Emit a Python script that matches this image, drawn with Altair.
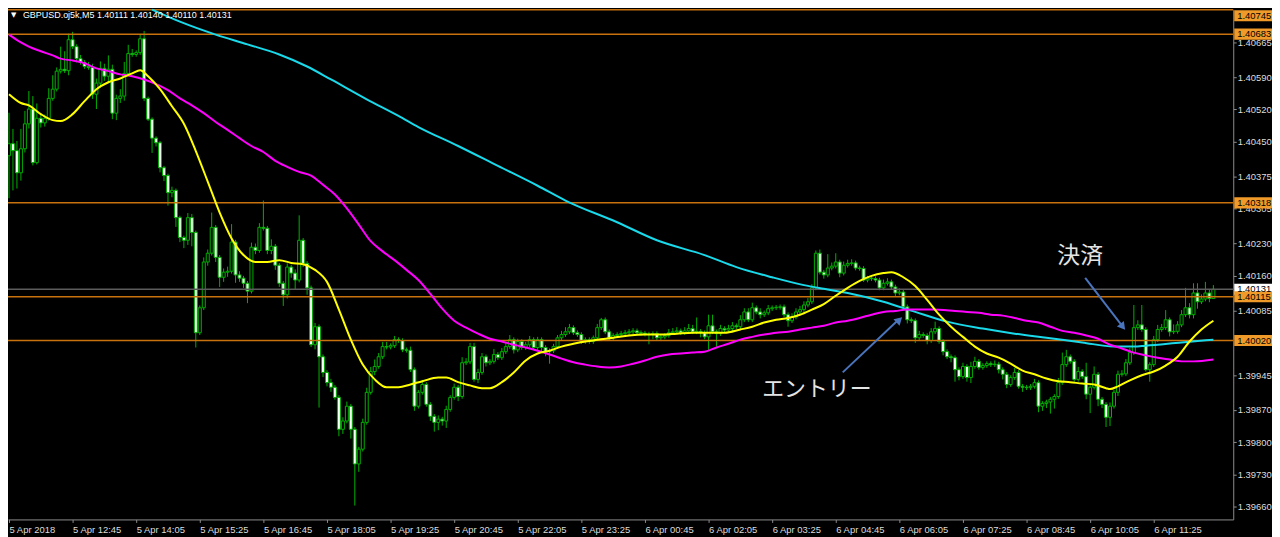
import altair as alt
import pandas as pd

# ---------------- data (prices in 1e-5 units above 1.0) ----------------
first_open_pts = 40420
close_pts = [
    40446, 40431, 40383, 40435, 40489, 40521, 40405, 40501, 40491, 40501, 40544, 40564, 40603, 40607, 40604, 40671,
    40656, 40630, 40622, 40613, 40611, 40553, 40577, 40609, 40592, 40607, 40512, 40544, 40549, 40598, 40641, 40639,
    40643, 40673, 40544, 40499, 40458, 40448, 40394, 40377, 40340, 40345, 40286, 40243, 40237, 40286, 40254, 40037,
    40091, 40190, 40209, 40265, 40200, 40157, 40168, 40170, 40233, 40162, 40155, 40144, 40127, 40222, 40215, 40265,
    40263, 40215, 40224, 40183, 40144, 40119, 40179, 40166, 40151, 40237, 40187, 40134, 40011, 40050, 39985, 39951,
    39929, 39919, 39897, 39828, 39846, 39878, 39828, 39753, 39785, 39843, 39908, 39953, 39964, 39985, 40007, 40006,
    40009, 40022, 40020, 40000, 39999, 39957, 39878, 39908, 39925, 39882, 39856, 39843, 39850, 39846, 39871, 39897,
    39919, 39899, 39972, 39974, 40007, 39936, 39951, 39985, 39972, 39975, 39990, 39983, 39996, 40007, 40022, 40000,
    40018, 40005, 40011, 40022, 40005, 40022, 40005, 39996, 39998, 40007, 40026, 40033, 40039, 40048, 40037, 40033,
    40018, 40022, 40018, 40026, 40048, 40065, 40039, 40026, 40031, 40033, 40035, 40037, 40039, 40041, 40037, 40036,
    40034, 40033, 40035, 40026, 40028, 40031, 40037, 40039, 40041, 40037, 40041, 40046, 40039, 40040, 40037, 40028,
    40052, 40039, 40035, 40046, 40043, 40046, 40052, 40050, 40065, 40082, 40065, 40091, 40082, 40076, 40080, 40089,
    40091, 40092, 40093, 40076, 40063, 40071, 40082, 40087, 40097, 40104, 40134, 40209, 40168, 40162, 40177, 40181,
    40190, 40166, 40183, 40187, 40188, 40177, 40176, 40151, 40155, 40154, 40151, 40134, 40144, 40147, 40136, 40123,
    40125, 40093, 40065, 40063, 40026, 40033, 40031, 40020, 40039, 40046, 40018, 39996, 39985, 39983, 39957, 39942,
    39964, 39940, 39964, 39975, 39962, 39966, 39970, 39968, 39969, 39957, 39947, 39925, 39940, 39951, 39921, 39919,
    39918, 39921, 39929, 39878, 39884, 39887, 39893, 39899, 39929, 39968, 39985, 39975, 39936, 39953, 39942, 39904,
    39919, 39947, 39893, 39882, 39854, 39878, 39908, 39947, 39948, 39972, 39994, 40048, 40054, 40044, 39957, 39968,
    40022, 40044, 40048, 40065, 40039, 40040, 40054, 40076, 40091, 40076, 40123, 40104, 40110, 40123, 40111, 40131,
]
upper_wick = [
    67, 32, 21, 43, 28, 39, 28, 32, 10, 8, 22, 30, 8, 49, 39, 13,
    17, 5, 8, 5, 10, 8, 10, 15, 10, 30, 10, 8, 15, 25, 19, 10,
    5, 10, 17, 4, 4, 4, 4, 4, 4, 8, 4, 4, 4, 10, 8, 4,
    5, 10, 8, 32, 5, 5, 8, 10, 39, 5, 8, 5, 5, 10, 8, 9,
    58, 5, 15, 5, 5, 5, 8, 5, 8, 54, 5, 5, 5, 8, 5, 5,
    5, 8, 5, 5, 8, 10, 5, 5, 5, 8, 10, 10, 15, 8, 10, 10,
    5, 8, 5, 5, 5, 8, 5, 5, 10, 5, 5, 5, 8, 5, 8, 5,
    8, 5, 12, 8, 8, 8, 8, 8, 5, 5, 12, 5, 8, 8, 10, 5,
    6, 5, 6, 8, 5, 6, 5, 5, 5, 6, 6, 8, 10, 8, 5, 5,
    5, 5, 5, 5, 8, 4, 5, 5, 5, 5, 6, 6, 6, 6, 5, 5,
    5, 5, 5, 5, 5, 5, 8, 8, 8, 5, 8, 10, 8, 30, 5, 5,
    24, 24, 5, 8, 5, 8, 8, 5, 10, 8, 8, 11, 5, 8, 5, 8,
    5, 5, 5, 5, 5, 8, 8, 8, 8, 8, 8, 6, 8, 5, 30, 8,
    19, 5, 8, 8, 8, 5, 5, 5, 5, 5, 5, 5, 8, 8, 5, 5,
    8, 5, 5, 5, 5, 8, 5, 5, 8, 15, 5, 5, 5, 5, 5, 5,
    8, 5, 10, 10, 5, 5, 5, 5, 8, 5, 5, 5, 5, 10, 5, 5,
    5, 5, 8, 5, 5, 5, 5, 5, 10, 26, 15, 5, 5, 10, 5, 30,
    8, 17, 5, 5, 5, 8, 5, 8, 8, 8, 10, 49, 10, 43, 5, 5,
    8, 10, 8, 21, 5, 15, 8, 10, 43, 10, 21, 21, 10, 24, 8, 9,
]
lower_wick = [
    92, 86, 34, 17, 8, 10, 6, 4, 10, 8, 5, 5, 5, 5, 5, 10,
    5, 8, 5, 5, 5, 10, 32, 10, 10, 15, 13, 15, 10, 10, 5, 5,
    5, 5, 6, 4, 32, 8, 10, 12, 28, 10, 20, 10, 17, 10, 30, 32,
    5, 5, 8, 5, 10, 21, 10, 10, 5, 17, 8, 10, 26, 5, 8, 5,
    5, 8, 8, 10, 8, 24, 8, 10, 20, 5, 8, 15, 5, 10, 110, 10,
    8, 10, 5, 15, 10, 5, 20, 90, 17, 5, 5, 5, 8, 5, 5, 5,
    5, 5, 5, 5, 5, 5, 10, 5, 5, 5, 10, 20, 17, 10, 15, 5,
    5, 10, 5, 5, 5, 5, 8, 5, 8, 5, 5, 5, 5, 5, 5, 8,
    5, 5, 5, 5, 5, 5, 8, 10, 26, 5, 5, 5, 5, 5, 5, 5,
    5, 5, 5, 5, 5, 5, 5, 5, 5, 5, 5, 5, 5, 5, 5, 5,
    5, 21, 10, 5, 5, 5, 5, 5, 5, 5, 5, 5, 5, 5, 10, 5,
    28, 5, 28, 5, 5, 5, 5, 5, 5, 5, 5, 5, 5, 8, 5, 5,
    5, 5, 5, 5, 13, 5, 5, 5, 5, 5, 5, 5, 5, 8, 5, 5,
    5, 9, 5, 5, 5, 5, 5, 4, 5, 5, 5, 5, 5, 5, 5, 8,
    5, 5, 8, 5, 11, 5, 5, 8, 5, 5, 5, 8, 5, 10, 26, 8,
    5, 9, 12, 5, 5, 5, 5, 5, 5, 8, 11, 8, 5, 5, 5, 10,
    5, 5, 5, 13, 10, 10, 25, 20, 5, 5, 5, 5, 5, 5, 5, 11,
    41, 5, 15, 8, 21, 19, 5, 8, 5, 5, 5, 5, 5, 5, 4, 26,
    5, 5, 5, 5, 10, 5, 5, 5, 5, 8, 8, 15, 5, 5, 8, 1,
]

yellow_idx = [0, 3, 5, 8, 11, 13, 16, 19, 22, 25, 28, 31, 33, 35, 38, 41, 44, 47, 50, 53, 56, 59, 62, 65, 68, 71,
              74, 77, 80, 83, 86, 89, 92, 95, 98, 101, 104, 108, 110, 113, 116, 119, 121, 124, 127, 130, 133, 136,
              139, 142, 145, 148, 152, 156, 160, 164, 168, 172, 176, 180, 184, 187, 190, 193, 196, 199, 202, 205,
              208, 211, 214, 217, 220, 222, 225, 228, 231, 234, 237, 240, 243, 246, 249, 252, 255, 258, 261, 264,
              267, 270, 273, 276, 277, 279, 282, 285, 288, 291, 294, 297, 300, 303]
yellow_pts = [40553, 40534, 40529, 40510, 40497, 40495, 40510, 40538, 40564, 40579, 40587, 40598, 40605, 40592,
              40564, 40527, 40489, 40430, 40364, 40297, 40241, 40205, 40190, 40190, 40194, 40188, 40185, 40173,
              40147, 40087, 40022, 39968, 39936, 39919, 39919, 39925, 39932, 39940, 39940, 39930, 39923, 39917,
              39917, 39930, 39951, 39977, 39992, 39998, 40007, 40013, 40018, 40022, 40026, 40031, 40033, 40033,
              40035, 40037, 40037, 40037, 40044, 40050, 40059, 40065, 40069, 40076, 40087, 40099, 40117, 40134,
              40149, 40160, 40166, 40168, 40157, 40138, 40108, 40076, 40050, 40028, 40007, 39992, 39983, 39970,
              39955, 39947, 39938, 39932, 39930, 39927, 39925, 39917, 39915, 39921, 39934, 39945, 39953, 39966,
              39985, 40018, 40044, 40063]

magenta_idx = [0, 3, 5, 8, 11, 13, 16, 19, 22, 25, 28, 31, 34, 37, 40, 43, 46, 49, 52, 55, 58, 61, 64, 67, 70, 73,
               76, 79, 82, 85, 88, 91, 94, 97, 100, 103, 106, 109, 112, 115, 118, 121, 124, 127, 130, 133, 136,
               139, 142, 145, 148, 151, 154, 157, 160, 163, 166, 169, 172, 175, 178, 181, 184, 187, 190, 193, 196,
               199, 202, 205, 208, 211, 214, 217, 220, 223, 226, 232, 238, 241, 244, 247, 250, 253, 256, 259, 262,
               265, 268, 271, 274, 277, 280, 283, 286, 289, 292, 295, 298, 303]
magenta_pts = [40682, 40665, 40656, 40646, 40637, 40630, 40626, 40620, 40609, 40603, 40596, 40592, 40585, 40575,
               40562, 40544, 40529, 40512, 40493, 40476, 40458, 40441, 40428, 40409, 40396, 40385, 40377, 40357,
               40336, 40306, 40271, 40235, 40213, 40194, 40173, 40151, 40121, 40089, 40063, 40048, 40035, 40024,
               40018, 40011, 40005, 39998, 39990, 39981, 39973, 39968, 39964, 39962, 39964, 39970, 39977, 39985,
               39990, 39992, 39994, 39996, 40005, 40013, 40022, 40028, 40033, 40037, 40039, 40044, 40048, 40052,
               40059, 40063, 40069, 40076, 40082, 40084, 40087, 40087, 40084, 40082, 40080, 40076, 40074, 40069,
               40063, 40059, 40050, 40041, 40037, 40031, 40024, 40011, 40003, 39994, 39988, 39983, 39979, 39975,
               39975, 39979]

cyan_idx = [36, 43, 52, 60, 68, 75, 81, 90, 98, 103, 113, 123, 133, 140, 153, 163, 175, 183, 192, 200, 205, 211,
            220, 228, 236, 245, 253, 261, 270, 278, 283, 286, 295, 303]
cyan_pts = [40736, 40710, 40682, 40661, 40639, 40613, 40585, 40542, 40506, 40482, 40441, 40398, 40355, 40323,
            40276, 40237, 40205, 40179, 40157, 40140, 40132, 40123, 40104, 40082, 40061, 40046, 40035, 40026,
            40016, 40007, 40007, 40009, 40016, 40022]

level_prices = [1.40745, 1.40683, 1.40318, 1.40115, 1.40020]
current_price = 1.40131
y_ticks = [1.40665, 1.40590, 1.40520, 1.40450, 1.40375, 1.40305, 1.40230, 1.40160, 1.40085,
           1.39945, 1.39870, 1.39800, 1.39730, 1.39660]
time_labels = ["5 Apr 2018", "5 Apr 12:45", "5 Apr 14:05", "5 Apr 15:25", "5 Apr 16:45", "5 Apr 18:05",
               "5 Apr 19:25", "5 Apr 20:45", "5 Apr 22:05", "5 Apr 23:25", "6 Apr 00:45", "6 Apr 02:05",
               "6 Apr 03:25", "6 Apr 04:45", "6 Apr 06:05", "6 Apr 07:25", "6 Apr 08:45", "6 Apr 10:05",
               "6 Apr 11:25"]
title_text = "GBPUSD.oj5k,M5  1.40111 1.40140 1.40110 1.40131"
entry_text = "エントリー"
exit_text = "決済"

assert len(close_pts) == len(upper_wick) == len(lower_wick) == 304, (len(close_pts), len(upper_wick), len(lower_wick))
assert len(yellow_idx) == len(yellow_pts) and len(magenta_idx) == len(magenta_pts) and len(cyan_idx) == len(cyan_pts)

# ---------------- build tables ----------------
opens = [first_open_pts] + close_pts[:-1]
rows = []
for i, (o, c, uw, lw) in enumerate(zip(opens, close_pts, upper_wick, lower_wick)):
    rows.append({"i": i, "o": 1 + o / 1e5, "c": 1 + c / 1e5,
                 "h": 1 + (max(o, c) + uw) / 1e5, "l": 1 + (min(o, c) - lw) / 1e5})
candles = pd.DataFrame(rows)

FONT = "Liberation Sans"
GREEN = "#00b000"
ORANGE_LINE = "#c8720e"
ORANGE_BOX = "#f09a2a"
ARROW = "#4a74bc"
W, H = 1233, 513
YDOM = [1.39633, 1.40736]

xs = alt.Scale(domain=[-0.25, 308], nice=False, zero=False)
ys = alt.Scale(domain=YDOM, nice=False, zero=False, clamp=True)

label_expr = "[" + ",".join("'%s'" % t for t in time_labels) + "][round(datum.value / 16)]"
x_axis = alt.Axis(values=list(range(0, 16 * len(time_labels), 16)), labelExpr=label_expr, orient="bottom",
                  tickSize=3, labelAlign="left", labelBaseline="top", labelPadding=2, labelColor="#dcdcdc",
                  labelFont=FONT, labelFontSize=9.5, domainColor="#8c8c8c", tickColor="#8c8c8c", grid=False,
                  title=None, labelOverlap=False, labelFlush=False)
y_axis = alt.Axis(orient="right", values=y_ticks, format=".5f", tickSize=3, labelPadding=1,
                  labelColor="#dcdcdc", labelFont=FONT, labelFontSize=9.5, domainColor="#8c8c8c",
                  tickColor="#8c8c8c", grid=False, title=None, labelOverlap=False, labelFlush=False)


def X(field):
    return alt.X(field, scale=xs, axis=x_axis, title=None)


def Y(field):
    return alt.Y(field, scale=ys, axis=y_axis, title=None)


base = alt.Chart(candles)
wicks = base.mark_rule(color=GREEN, strokeWidth=1).encode(x=X("i:Q"), y=Y("l:Q"), y2="h:Q")
bodies = base.transform_calculate(
    xa="datum.i - 0.375", xb="datum.i + 0.375"
).mark_rect(stroke=GREEN, strokeWidth=1).encode(
    x=X("xa:Q"), x2="xb:Q", y=Y("o:Q"), y2="c:Q",
    fill=alt.condition("datum.c > datum.o", alt.value("#000000"), alt.value("#f4fff4")),
)


def ma_layer(idx, pts, color):
    df = pd.DataFrame({"i": idx, "v": [1 + p / 1e5 for p in pts]})
    return alt.Chart(df).mark_line(color=color, strokeWidth=2, interpolate="monotone").encode(
        x=X("i:Q"), y=Y("v:Q"))


yellow = ma_layer(yellow_idx, yellow_pts, "#ffff00")
magenta = ma_layer(magenta_idx, magenta_pts, "#ff00ff")
cyan = ma_layer(cyan_idx, cyan_pts, "#19d9ea")

levels = alt.Chart(pd.DataFrame({"p": level_prices})).mark_rule(color=ORANGE_LINE, strokeWidth=1.5).encode(
    y=Y("p:Q"))
current = alt.Chart(pd.DataFrame({"p": [current_price]})).mark_rule(color="#5c5c5c", strokeWidth=1.5).encode(
    y=Y("p:Q"))

box_df = pd.DataFrame({"p": [current_price] + level_prices, "kind": ["current"] + ["level"] * len(level_prices)})
box_base = alt.Chart(box_df).transform_calculate(
    yp="min(datum.p, 1.40723)", lo="datum.yp - 0.00012", hi="datum.yp + 0.00012",
    txt="format(datum.p, '.5f')")
boxes = box_base.mark_rect().encode(
    x=alt.value(W + 1), x2=alt.value(W + 39),
    y=Y("lo:Q"), y2="hi:Q",
    fill=alt.condition("datum.kind == 'current'", alt.value("#ffffff"), alt.value(ORANGE_BOX)),
)
box_text = box_base.mark_text(align="left", baseline="middle", font=FONT, fontSize=9.5, color="#000000").encode(
    x=alt.value(W + 4), y=Y("yp:Q"), text="txt:N")

title_mark = alt.Chart(pd.DataFrame({"t": [title_text]})).mark_text(
    align="left", baseline="middle", font=FONT, fontSize=9, color="#ffffff").encode(
    x=alt.value(15), y=alt.value(5), text="t:N")
title_tri = alt.Chart(pd.DataFrame({"t": ["▼"]})).mark_text(
    align="left", baseline="middle", font="DejaVu Sans", fontSize=7, color="#ffffff").encode(
    x=alt.value(3), y=alt.value(5), text="t:N")

entry_label = alt.Chart(pd.DataFrame({"t": [entry_text]})).mark_text(
    align="center", baseline="middle", font="Noto Sans CJK JP", fontSize=22, color="#e4e4e4").encode(
    x=alt.value(814), y=alt.value(382), text="t:N")
exit_label = alt.Chart(pd.DataFrame({"t": [exit_text]})).mark_text(
    align="center", baseline="middle", font="Noto Sans CJK JP", fontSize=23, color="#e4e4e4").encode(
    x=alt.value(1079), y=alt.value(248), text="t:N")

entry_shaft = alt.Chart(pd.DataFrame({"a": [1]})).mark_rule(color=ARROW, strokeWidth=2).encode(
    x=alt.value(840), y=alt.value(365), x2=alt.value(895), y2=alt.value(313))
entry_head = alt.Chart(pd.DataFrame({"a": [1]})).mark_point(
    shape="triangle", filled=True, size=80, angle=47, color=ARROW, opacity=1).encode(
    x=alt.value(896), y=alt.value(313))
exit_shaft = alt.Chart(pd.DataFrame({"a": [1]})).mark_rule(color=ARROW, strokeWidth=2).encode(
    x=alt.value(1084), y=alt.value(270), x2=alt.value(1121), y2=alt.value(318))
exit_head = alt.Chart(pd.DataFrame({"a": [1]})).mark_point(
    shape="triangle", filled=True, size=80, angle=142, color=ARROW, opacity=1).encode(
    x=alt.value(1121), y=alt.value(318))

chart = alt.layer(
    wicks, bodies, levels, current, cyan, magenta, yellow,
    boxes, box_text, title_tri, title_mark,
    entry_shaft, entry_head, exit_shaft, exit_head, entry_label, exit_label,
).properties(
    width=W, height=H, background="#000000",
    autosize=alt.AutoSizeParams(type="none"),
    padding={"left": 0, "top": 0, "right": 39, "bottom": 16},
).configure_view(stroke=None, fill="#000000")

chart.save("out.html", embed_options={"renderer": "svg", "actions": False})
